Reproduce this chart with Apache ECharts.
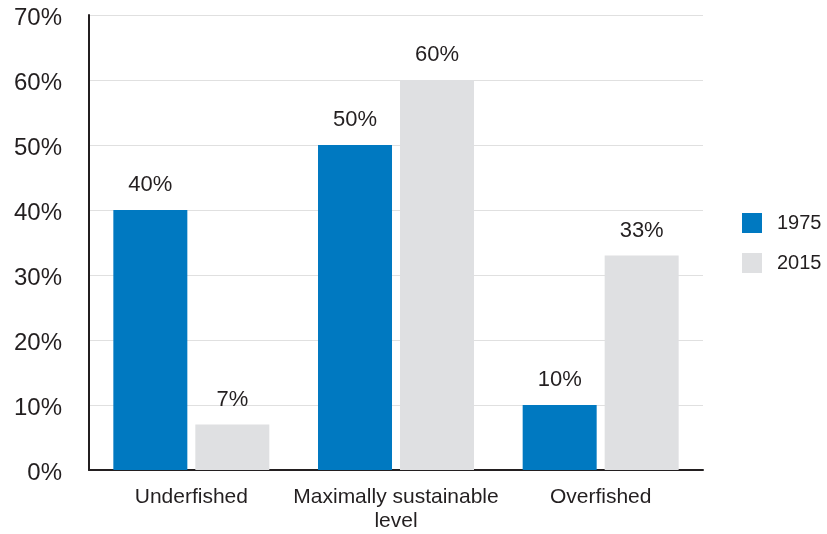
<!DOCTYPE html>
<html>
<head>
<meta charset="utf-8">
<script src="https://cdn.jsdelivr.net/npm/echarts@6/dist/echarts.min.js"></script>
<style>
  html, body { margin: 0; padding: 0; background: #fff; }
  #chart { width: 827px; height: 534px; }
</style>
</head>
<body>
<div id="chart"></div>
<script>
// Share of fish stocks by status
const categories = ['Underfished', 'Maximally sustainable\nlevel', 'Overfished'];
const values1975 = [40, 50, 10];
const values2015 = [7, 60, 33];
const yTicks = [0, 10, 20, 30, 40, 50, 60, 70];

const FONT = 'Liberation Sans, Arial, sans-serif';
const TEXT = '#231f20';

const chart = echarts.init(document.getElementById('chart'));

const valueLabel = {
  show: true,
  position: 'top',
  distance: 14,
  formatter: p => p.value + '%',
  fontFamily: FONT,
  fontSize: 22,
  color: TEXT
};

chart.setOption({
  animation: false,
  grid: { left: 89, right: 124, top: 15, bottom: 64, containLabel: false },
  legend: {
    orient: 'vertical',
    left: 737,
    top: 208,
    itemWidth: 20,
    itemHeight: 20,
    itemGap: 20,
    icon: 'rect',
    textStyle: { fontFamily: FONT, fontSize: 20, color: TEXT, padding: [0, 0, 0, 10] },
    data: ['1975', '2015']
  },
  xAxis: {
    type: 'category',
    data: categories,
    axisLine: { lineStyle: { color: TEXT, width: 2 } },
    axisTick: { show: false },
    axisLabel: {
      interval: 0,
      fontFamily: FONT,
      fontSize: 21,
      color: TEXT,
      margin: 15,
      lineHeight: 24
    }
  },
  yAxis: {
    type: 'value',
    min: yTicks[0],
    max: yTicks[yTicks.length - 1],
    interval: 10,
    axisLine: { show: true, lineStyle: { color: TEXT, width: 2 } },
    axisTick: { show: false },
    splitLine: { lineStyle: { color: '#e0e0e0', width: 1 } },
    axisLabel: {
      margin: 27,
      formatter: v => '{t|' + v + '%}',
      rich: {
        t: {
          fontFamily: FONT,
          fontSize: 24,
          color: TEXT,
          padding: [6, 0, 0, 0]
        }
      }
    }
  },
  series: [
    {
      name: '1975',
      type: 'bar',
      data: values1975,
      barWidth: 74,
      barGap: '10.8%',
      itemStyle: { color: '#0079c1' },
      label: valueLabel
    },
    {
      name: '2015',
      type: 'bar',
      data: values2015,
      barWidth: 74,
      barGap: '10.8%',
      itemStyle: { color: '#dfe0e2' },
      label: valueLabel
    }
  ]
});
</script>
</body>
</html>
